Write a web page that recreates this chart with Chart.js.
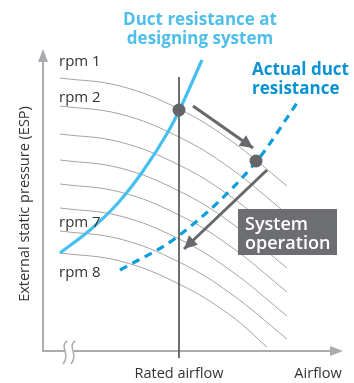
<!DOCTYPE html>
<html>
<head>
<meta charset="utf-8">
<script src="https://cdn.jsdelivr.net/npm/chart.js@4"></script>
<style>
  html, body { margin: 0; padding: 0; background: #fff; }
  #wrap { position: relative; width: 354px; height: 383px; }
</style>
</head>
<body>
<div id="wrap"><canvas id="fan-chart"></canvas></div>
<script>
// ===== data (airflow units on x, ESP units on y) =====
var FAN_X      = [17, 77, 136, 187, 244];
var FAN_X_LAST = [17, 77, 136, 187, 224];
var RPM_1 = [273, 265, 242, 211, 165];
var RPM_2 = [245, 237, 214, 183, 137];
var RPM_3 = [217, 209, 186, 155, 109];
var RPM_4 = [191, 183, 160, 129, 83];
var RPM_5 = [167, 159, 136, 105, 59];
var RPM_6 = [143, 135, 112, 81, 35];
var RPM_7 = [120, 112, 89, 58, 12];
var RPM_8 = [98, 90, 67, 36, 4];

var DESIGN_X = [17, 47, 75, 100, 125, 136, 159];
var DESIGN_Y = [98, 121, 148, 180, 219, 240, 291];

var ACTUAL_X = [77, 134, 213, 254];
var ACTUAL_Y = [81, 114, 189, 248];

var RATED_AIRFLOW = 136;
var RATED_Y = [-7, 274];

var OP_X = [136, 213];
var OP_Y = [241, 190];

var SHIFT_X = [150, 210];
var SHIFT_Y = [245, 203];
var SYS_X = [224, 141];
var SYS_Y = [181, 102];

var RPM_LABELS = ["rpm 1", "rpm 2", "rpm 7", "rpm 8"];

function pts(xs, ys) {
  var out = [];
  for (var i = 0; i < xs.length; i++) out.push({ x: xs[i], y: ys[i] });
  return out;
}

var GRAY_CURVE = "#a3a3a3";
var LIGHT_BLUE = "#45c0ee";
var DARK_BLUE = "#0c9ddc";
var DARK_GRAY = "#67686b";

var fanSets = [RPM_1, RPM_2, RPM_3, RPM_4, RPM_5, RPM_6, RPM_7, RPM_8].map(function (ys, i) {
  return {
    label: "rpm " + (i + 1),
    data: pts(i === 7 ? FAN_X_LAST : FAN_X, ys),
    showLine: true, borderColor: GRAY_CURVE, borderWidth: 1,
    pointRadius: 0, tension: 0.4, clip: false, order: 10
  };
});

// ===== extra drawing: axes, texts, box, arrowheads =====
var diagram = {
  id: "diagram",
  beforeDatasetsDraw: function (chart) {
    var ctx = chart.ctx, sx = chart.scales.x, sy = chart.scales.y;
    var x0 = sx.getPixelForValue(0), y0 = sy.getPixelForValue(0);
    ctx.save();
    ctx.strokeStyle = "#a9abae"; ctx.fillStyle = "#a9abae"; ctx.lineWidth = 2;
    // y axis
    ctx.beginPath(); ctx.moveTo(x0, y0 + 1); ctx.lineTo(x0, sy.getPixelForValue(290)); ctx.stroke();
    ctx.beginPath();
    ctx.moveTo(x0, sy.getPixelForValue(302));
    ctx.lineTo(x0 - 5, sy.getPixelForValue(289));
    ctx.lineTo(x0 + 5, sy.getPixelForValue(289));
    ctx.closePath(); ctx.fill();
    // x axis with break
    var b1 = sx.getPixelForValue(22), b2 = sx.getPixelForValue(31);
    ctx.beginPath(); ctx.moveTo(x0 - 1, y0); ctx.lineTo(b1, y0); ctx.stroke();
    ctx.beginPath(); ctx.moveTo(b2, y0); ctx.lineTo(sx.getPixelForValue(290), y0); ctx.stroke();
    ctx.beginPath();
    ctx.moveTo(sx.getPixelForValue(300), y0);
    ctx.lineTo(sx.getPixelForValue(287), y0 - 5);
    ctx.lineTo(sx.getPixelForValue(287), y0 + 5);
    ctx.closePath(); ctx.fill();
    ctx.lineWidth = 1.5;
    [b1, b2 - 1].forEach(function (bx) {
      ctx.beginPath();
      ctx.moveTo(bx + 2, y0 - 10);
      ctx.bezierCurveTo(bx - 6, y0 - 5, bx + 6, y0 + 4, bx - 2, y0 + 13);
      ctx.stroke();
    });
    ctx.restore();
  },
  afterDatasetsDraw: function (chart) {
    var ctx = chart.ctx, sx = chart.scales.x, sy = chart.scales.y;
    function P(x, y) { return [sx.getPixelForValue(x), sy.getPixelForValue(y)]; }
    ctx.save();
    // arrowheads
    function head(xs, ys) {
      var a = P(xs[0], ys[0]), b = P(xs[1], ys[1]);
      var ang = Math.atan2(b[1] - a[1], b[0] - a[0]), L = 13, W = 6.5;
      ctx.fillStyle = DARK_GRAY;
      ctx.beginPath();
      ctx.moveTo(b[0], b[1]);
      ctx.lineTo(b[0] - L * Math.cos(ang) + W * Math.sin(ang), b[1] - L * Math.sin(ang) - W * Math.cos(ang));
      ctx.lineTo(b[0] - L * Math.cos(ang) - W * Math.sin(ang), b[1] - L * Math.sin(ang) + W * Math.cos(ang));
      ctx.closePath(); ctx.fill();
    }
    head(SHIFT_X, SHIFT_Y);
    head(SYS_X, SYS_Y);

    // system operation box
    var bx = P(195, 142), bx2 = P(294, 96);
    ctx.fillStyle = "#6d6e71";
    ctx.fillRect(bx[0], bx[1], bx2[0] - bx[0], bx2[1] - bx[1]);
    ctx.fillStyle = "#ffffff";
    ctx.font = "600 18px 'Open Sans'";
    ctx.textBaseline = "alphabetic"; ctx.textAlign = "left";
    ctx.fillText("System", bx[0] + 7, bx[1] + 21);
    ctx.fillText("operation", bx[0] + 7, bx[1] + 40);

    // rpm labels
    ctx.fillStyle = "#333333";
    ctx.font = "15px 'Open Sans'";
    ctx.textBaseline = "middle";
    var lx = sx.getPixelForValue(16);
    var ly = [289, 253, 128, 78];
    RPM_LABELS.forEach(function (t, i) { ctx.fillText(t, lx, sy.getPixelForValue(ly[i])); });

    // titles
    ctx.fillStyle = "#4fbfea";
    ctx.font = "bold 17px 'Open Sans'";
    ctx.textAlign = "center";
    ctx.fillText("Duct resistance at", 200, 20);
    ctx.fillText("designing system", 200, 39);
    ctx.fillStyle = "#0a92d3";
    ctx.textAlign = "left";
    ctx.fillText("Actual duct", 252, 70);
    ctx.fillText("resistance", 252, 89);

    // axis titles
    ctx.fillStyle = "#333333";
    ctx.font = "14.5px 'Open Sans'";
    ctx.textAlign = "center";
    ctx.fillText("Rated airflow", sx.getPixelForValue(RATED_AIRFLOW), 374);
    ctx.fillText("Airflow", 318, 374);
    ctx.translate(25, 204);
    ctx.rotate(-Math.PI / 2);
    ctx.fillText("External static pressure (ESP)", 0, 0);
    ctx.restore();
  }
};

new Chart(document.getElementById("fan-chart"), {
  type: "scatter",
  data: {
    datasets: fanSets.concat([
      { label: "Duct resistance at designing system", data: pts(DESIGN_X, DESIGN_Y), showLine: true,
        borderColor: LIGHT_BLUE, borderWidth: 3.2, pointRadius: 0, cubicInterpolationMode: "monotone", clip: false, order: 6 },
      { label: "Actual duct resistance", data: pts(ACTUAL_X, ACTUAL_Y), showLine: true,
        borderColor: DARK_BLUE, borderWidth: 3.2, borderDash: [8, 6], pointRadius: 0, cubicInterpolationMode: "monotone", clip: false, order: 5 },
      { label: "Rated airflow", data: pts([RATED_AIRFLOW, RATED_AIRFLOW], RATED_Y), showLine: true,
        borderColor: "#5d5e60", borderWidth: 1.8, pointRadius: 0, clip: false, order: 4 },
      { label: "shift", data: pts(SHIFT_X, SHIFT_Y), showLine: true,
        borderColor: DARK_GRAY, borderWidth: 3, pointRadius: 0, clip: false, order: 3 },
      { label: "system", data: pts(SYS_X, SYS_Y), showLine: true,
        borderColor: DARK_GRAY, borderWidth: 3, pointRadius: 0, clip: false, order: 3 },
      { label: "operating points", data: pts(OP_X, OP_Y), showLine: false,
        pointRadius: 6.5, pointBackgroundColor: "#646568", pointBorderWidth: 0, clip: false, order: 1 }
    ])
  },
  options: {
    responsive: true,
    maintainAspectRatio: false,
    animation: false,
    devicePixelRatio: 1,
    layout: { autoPadding: false, padding: { left: 43, right: 0, top: 0, bottom: 32 } },
    scales: {
      x: { type: "linear", min: 0, max: 311, display: false },
      y: { type: "linear", min: 0, max: 351, display: false }
    },
    plugins: { legend: { display: false }, tooltip: { enabled: false } },
    events: []
  },
  plugins: [diagram]
});
</script>
</body>
</html>
